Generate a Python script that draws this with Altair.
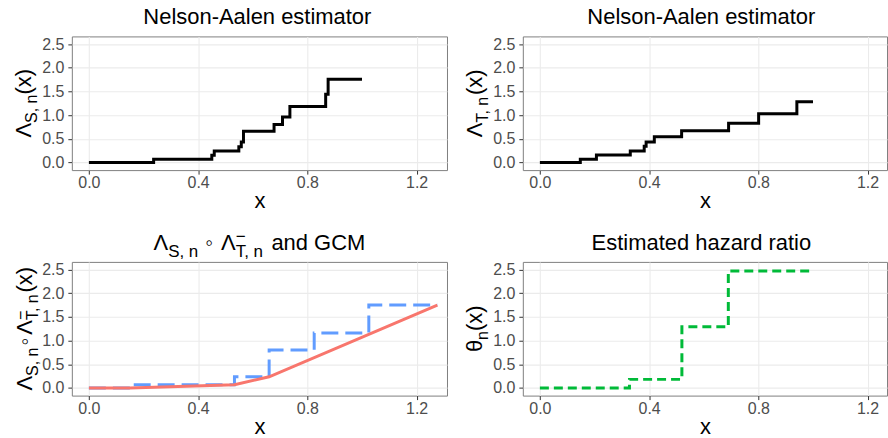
import altair as alt
import pandas as pd

# ---------------- data ----------------
s_x = [0.0, 0.237, 0.450, 0.459, 0.549, 0.558, 0.566, 0.678, 0.709, 0.736, 0.867, 0.876, 1.0]
s_y = [0.0, 0.065, 0.15, 0.24, 0.33, 0.43, 0.66, 0.80, 0.96, 1.18, 1.44, 1.76, 1.76]

t_x = [0.0, 0.148, 0.207, 0.331, 0.382, 0.389, 0.419, 0.519, 0.691, 0.801, 0.941, 1.0]
t_y = [0.0, 0.064, 0.155, 0.24, 0.34, 0.43, 0.54, 0.67, 0.83, 1.03, 1.28, 1.28]

comp_x = [0.0, 0.150, 0.533, 0.660, 0.825, 1.025, 1.276]
comp_y = [0.0, 0.065, 0.235, 0.80, 1.16, 1.75, 1.75]

gcm_x = [0.0, 0.150, 0.533, 0.660, 1.276]
gcm_y = [0.0, 0.0, 0.065, 0.235, 1.75]

hr_x = [0.0, 0.328, 0.520, 0.690, 1.0]
hr_y = [0.0, 0.18, 1.29, 2.47, 2.47]

x_ticks = [0.0, 0.4, 0.8, 1.2]
y_ticks = [0.0, 0.5, 1.0, 1.5, 2.0, 2.5]

# ---------------- layout / style ----------------
FONT = "Liberation Sans"
PX = 273.7
X0 = -0.0625
W_L, W_R, H = 376, 365, 134
X1_L = X0 + W_L / PX
X1_R = X0 + W_R / PX
Y_DOM = [-0.163, 2.663]
ONE = pd.DataFrame({"k": [0]})

GLYPH = {'Λ': 0.667, 'S': 0.667, 'T': 0.611, 'n': 0.556, ',': 0.278, ' ': 0.278,
         '(': 0.333, ')': 0.333, 'x': 0.5, 'θ': 0.556, '−': 0.584, '◦': 0.354,
         'a': 0.556, 'd': 0.556, 'G': 0.778, 'C': 0.722, 'M': 0.833,
         'N': 0.722, 'e': 0.556, 'l': 0.222, 's': 0.5, 'o': 0.556, '-': 0.333,
         'A': 0.667, 'i': 0.222, 'm': 0.833, 'r': 0.333, 't': 0.278, 'z': 0.5,
         'h': 0.556, 'E': 0.667}


def advance(s, size):
    return sum(GLYPH.get(c, 0.556) for c in s) * size


def rich(segments, x, y, angle=0):
    """segments: (text, size, dy, adv or None); pieces laid out side by side."""
    advs = [a if a is not None else advance(t, s) for t, s, d, a in segments]
    pos = -sum(advs) / 2
    layers = []
    for (txt, size, dy, _), a in zip(segments, advs):
        if txt:
            kw = dict(text=txt, fontSize=size, font=FONT, align="left",
                      baseline="alphabetic", dx=pos, dy=dy, color="black")
            if angle:
                kw["angle"] = angle
            layers.append(alt.Chart(ONE).mark_text(**kw).encode(
                x=alt.value(x), y=alt.value(y)))
        pos += a
    return layers


def x_enc(x1):
    return alt.X("x:Q", scale=alt.Scale(domain=[X0, x1], nice=False, zero=False),
                 axis=alt.Axis(values=x_ticks, format=".1f", title="x"))


def y_enc():
    return alt.Y("y:Q", scale=alt.Scale(domain=Y_DOM, nice=False, zero=False),
                 axis=alt.Axis(values=y_ticks, format=".1f", title=None))


def line(xs, ys, x1, color, dash=None, interp="step-after", width=3):
    kw = dict(color=color, strokeWidth=width, interpolate=interp, clip=True,
              strokeCap="butt", strokeJoin="miter")
    if dash:
        kw["strokeDash"] = dash
    return alt.Chart(pd.DataFrame({"x": xs, "y": ys})).mark_line(**kw).encode(
        x=x_enc(x1), y=y_enc())


def frame(left, top=35.3, bottom=45.4):
    # invisible rule that fixes the outer bounds of a panel
    return alt.Chart(ONE).mark_rule(opacity=0, strokeWidth=1).encode(
        x=alt.value(-left + 0.5), x2=alt.value(-left + 0.5),
        y=alt.value(-top + 0.5), y2=alt.value(H + bottom - 0.5))


def panel(lines, title_segs, title_x, ytitle_segs, ytitle_x, width, left, bottom):
    layers = list(lines)
    layers += rich(title_segs, title_x, -12.3)
    layers += rich(ytitle_segs, ytitle_x, H / 2, angle=270)
    layers.append(frame(left, bottom=bottom))
    return alt.layer(*layers).properties(width=width, height=H)


TS = 22      # title size
TSUB = 17    # title script size
AS = 22      # axis title size
ASUB = 16    # axis title script size
SUB = 6.5


def plain(txt):
    return [(txt, TS, 0, None)]


p1 = panel([line(s_x, s_y, X1_L, "black")],
           plain("Nelson-Aalen estimator"), 186,
           [("Λ", AS, 0, None), ("S, n", ASUB, SUB, None), ("(x)", AS, 0, None)],
           -41, W_L, 71.7, 45.4)

p2 = panel([line(t_x, t_y, X1_R, "black")],
           plain("Nelson-Aalen estimator"), 179,
           [("Λ", AS, 0, None), ("T, n", ASUB, SUB, None), ("(x)", AS, 0, None)],
           -41, W_R, 74.3, 45.4)

p3 = panel([line(comp_x, comp_y, X1_L, "#619CFF", dash=[17, 7]),
            line(gcm_x, gcm_y, X1_L, "#F8766D", interp="linear")],
           [("Λ", TS, 0, None), ("S, n", TSUB, 7, None), ("", 0, 0, 7),
            ("◦", TS, 0, None), ("", 0, 0, 8), ("Λ", TS, 0, None),
            ("−", TSUB, -8, 0), ("T, n", TSUB, 7, None), ("", 0, 0, 6.5),
            ("and GCM", TS, 0, None)], 188,
           [("Λ", AS, 0, None), ("S, n", ASUB, SUB, None), ("", 0, 0, 2),
            ("◦", AS, 0, None), ("", 0, 0, 3), ("Λ", AS, 0, None),
            ("−", ASUB, -6, 0), ("T, n", ASUB, SUB, None), ("(x)", AS, 0, None)],
           -40, W_L, 71.7, 40)

p4 = panel([line(hr_x, hr_y, X1_R, "#00BA38", dash=[9, 5])],
           plain("Estimated hazard ratio"), 179,
           [("θ", AS, 0, None), ("n", ASUB, SUB, None), ("(x)", AS, 0, None)],
           -41, W_R, 74.3, 40)

row1 = alt.hconcat(p1, p2, spacing=0)
row2 = alt.hconcat(p3, p4, spacing=0)

chart = alt.vconcat(row1, row2, spacing=10).properties(
    padding={"left": 0, "top": 0, "right": 0, "bottom": 0},
    background="white",
).configure_view(
    stroke="#808080", strokeWidth=1
).configure_axis(
    labelFont=FONT, labelFontSize=16, labelColor="#4D4D4D",
    titleFont=FONT, titleFontSize=AS, titleColor="black", titleFontWeight="normal",
    tickColor="#333333", tickSize=4, tickWidth=1,
    gridColor="#EBEBEB", gridWidth=1.1, domain=False,
).configure_axisX(
    labelPadding=0.5, titlePadding=0
).configure_axisY(
    labelPadding=4
)

chart.save("out.html", embed_options={"renderer": "svg", "actions": False})
